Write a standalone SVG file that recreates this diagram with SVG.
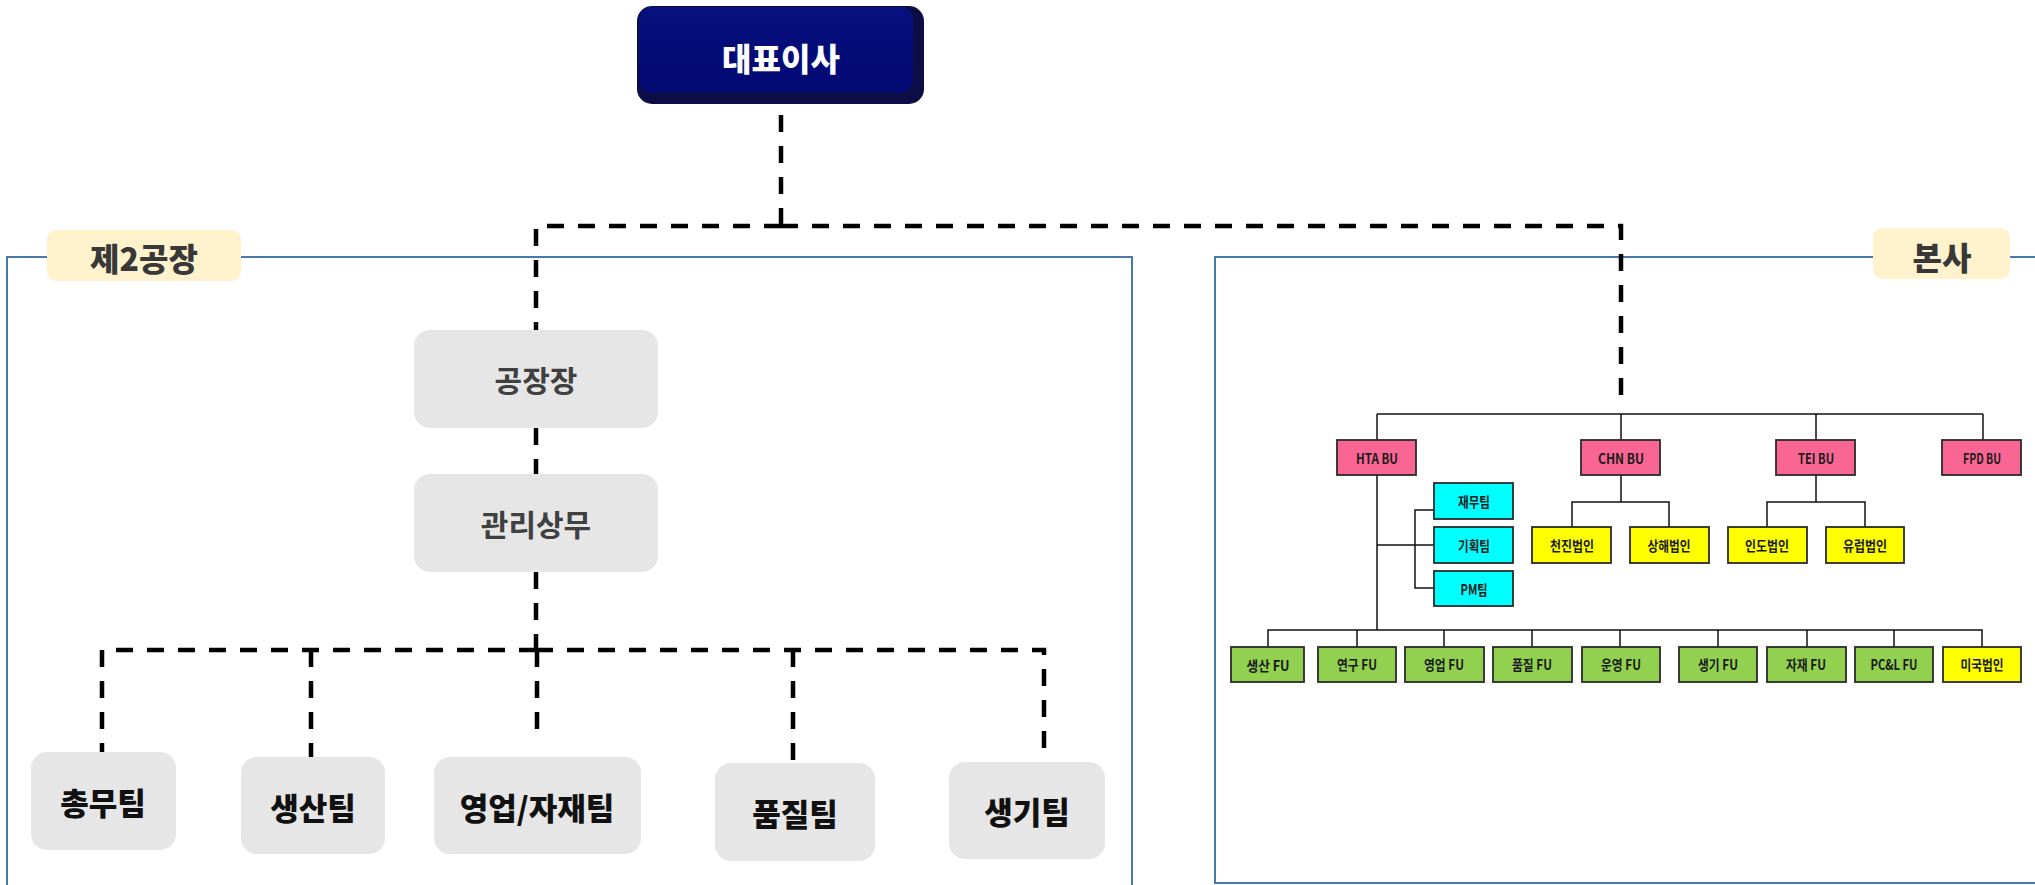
<svg xmlns="http://www.w3.org/2000/svg" width="2035" height="885" viewBox="0 0 2035 885">
<defs>
<style>
.frame{fill:none;stroke:#4a78ad;stroke-width:2}
.lbl{fill:#fff2cc}
.lbltxt{font-family:"Noto Sans CJK KR","Noto Sans",sans-serif;font-weight:900;font-size:32px;fill:#383838;text-anchor:middle;dominant-baseline:central}
.gray{fill:#e6e6e6}
.gtxt{font-family:"Noto Sans CJK KR","Noto Sans",sans-serif;font-weight:bold;font-size:30px;fill:#404040;text-anchor:middle;dominant-baseline:central}
.btxt{font-family:"Noto Sans CJK KR","Noto Sans",sans-serif;font-weight:900;font-size:31px;fill:#111;text-anchor:middle;dominant-baseline:central}
.dash{fill:none;stroke:#000;stroke-width:4.5;stroke-dasharray:17 14}
.solid{fill:none;stroke:#111;stroke-width:1.5}
.box{stroke:#2a2a2a;stroke-width:1.8}
.pink{fill:#fa6694}
.cyan{fill:#00ffff}
.yel{fill:#ffff00}
.grn{fill:#92d050}
.stxt{font-family:"Noto Sans CJK KR","Noto Sans",sans-serif;font-weight:bold;font-size:14px;fill:#1a1a1a;text-anchor:middle;dominant-baseline:central}
</style>
<linearGradient id="ceoG" x1="0" y1="0" x2="0" y2="1">
<stop offset="0" stop-color="#06107e"/>
<stop offset="1" stop-color="#020872"/>
</linearGradient>
</defs>
<rect width="2035" height="885" fill="#ffffff"/>

<!-- frames -->
<g id="frame-left">
<path class="frame" d="M7,890 V257 H1132 V890"/>
</g>
<g id="frame-right">
<path class="frame" d="M2040,257 H1215 V883 H2040"/>
</g>

<!-- connectors -->
<g id="connectors">
<path class="dash" d="M781,115 V226"/>
<path class="dash" d="M781,226 H536 V331"/>
<path class="dash" d="M781,226 H1621 V402"/>
<path class="dash" d="M536,428 V474"/>
<path class="dash" d="M536,572 V650"/>
<path class="dash" d="M536,650 H102 V752"/>
<path class="dash" d="M536,650 H1044 V762"/>
<path class="dash" d="M311,650 V757"/>
<path class="dash" d="M537,650 V741"/>
<path class="dash" d="M793,650 V763"/>
<path class="solid" d="M1377,414 H1983 M1377,414 V440 M1621,414 V440 M1816,414 V440 M1983,414 V440"/>
<path class="solid" d="M1377,475 V630 M1377,545 H1434 M1434,510 H1415 V588 H1434"/>
<path class="solid" d="M1621,475 V502 M1572,527 V502 H1669 V527"/>
<path class="solid" d="M1816,475 V502 M1767,527 V502 H1865 V527"/>
<path class="solid" d="M1268,647 V630 H1982 V647 M1357,630 V647 M1444,630 V647 M1532,630 V647 M1620,630 V647 M1718,630 V647 M1807,630 V647 M1894,630 V647"/>
</g>

<!-- labels -->
<g id="label-plant2">
<rect class="lbl" x="47" y="230" width="194" height="51" rx="9"/>
<text class="lbltxt" x="144" y="257">제2공장</text>
</g>
<g id="label-hq">
<rect class="lbl" x="1873" y="228" width="137" height="51" rx="9"/>
<text class="lbltxt" x="1942" y="256">본사</text>
</g>

<!-- CEO -->
<g id="ceo">
<rect x="637" y="6" width="287" height="98" rx="15" fill="#0d0d45"/>
<rect x="639" y="7" width="274" height="86" rx="13" fill="url(#ceoG)"/>
<text x="781" y="57" font-family="Noto Sans CJK KR, Noto Sans, sans-serif" font-weight="900" font-size="32" fill="#ffffff" text-anchor="middle" dominant-baseline="central">대표이사</text>
</g>

<!-- left side nodes -->
<g id="plant-head">
<rect class="gray" x="414" y="330" width="244" height="98" rx="16"/>
<text class="gtxt" x="536" y="379">공장장</text>
</g>
<g id="mgmt-exec">
<rect class="gray" x="414" y="474" width="244" height="98" rx="16"/>
<text class="gtxt" x="536" y="523">관리상무</text>
</g>
<g id="team-general">
<rect class="gray" x="31" y="752" width="145" height="98" rx="16"/>
<text class="btxt" x="103" y="801">총무팀</text>
</g>
<g id="team-production">
<rect class="gray" x="241" y="757" width="144" height="97" rx="16"/>
<text class="btxt" x="313" y="806">생산팀</text>
</g>
<g id="team-sales">
<rect class="gray" x="434" y="757" width="207" height="97" rx="16"/>
<text class="btxt" x="537" y="806">영업/자재팀</text>
</g>
<g id="team-quality">
<rect class="gray" x="715" y="763" width="160" height="98" rx="16"/>
<text class="btxt" x="795" y="812">품질팀</text>
</g>
<g id="team-engineering">
<rect class="gray" x="949" y="762" width="156" height="97" rx="16"/>
<text class="btxt" x="1027" y="810">생기팀</text>
</g>

<!-- right side nodes -->
<g id="hta-bu"><rect class="box pink" x="1337" y="440" width="79" height="35"/><text class="stxt" x="1377" y="457.5" textLength="42" lengthAdjust="spacingAndGlyphs">HTA BU</text></g>
<g id="chn-bu"><rect class="box pink" x="1581" y="440" width="79" height="35"/><text class="stxt" x="1621" y="457.5" textLength="46" lengthAdjust="spacingAndGlyphs">CHN BU</text></g>
<g id="tei-bu"><rect class="box pink" x="1776" y="440" width="79" height="35"/><text class="stxt" x="1816" y="457.5" textLength="36" lengthAdjust="spacingAndGlyphs">TEI BU</text></g>
<g id="fpd-bu"><rect class="box pink" x="1942" y="440" width="79" height="35"/><text class="stxt" x="1982" y="457.5" textLength="38" lengthAdjust="spacingAndGlyphs">FPD BU</text></g>

<g id="finance"><rect class="box cyan" x="1434" y="483" width="79" height="36"/><text class="stxt" x="1474" y="501" textLength="32" lengthAdjust="spacingAndGlyphs">재무팀</text></g>
<g id="planning"><rect class="box cyan" x="1434" y="527" width="79" height="36"/><text class="stxt" x="1474" y="545" textLength="32" lengthAdjust="spacingAndGlyphs">기획팀</text></g>
<g id="pm"><rect class="box cyan" x="1434" y="571" width="79" height="35"/><text class="stxt" x="1474" y="588.5" textLength="27" lengthAdjust="spacingAndGlyphs">PM팀</text></g>

<g id="tianjin"><rect class="box yel" x="1532" y="527" width="79" height="36"/><text class="stxt" x="1572" y="545" textLength="44" lengthAdjust="spacingAndGlyphs">천진법인</text></g>
<g id="shanghai"><rect class="box yel" x="1630" y="527" width="79" height="36"/><text class="stxt" x="1669" y="545" textLength="43" lengthAdjust="spacingAndGlyphs">상해법인</text></g>
<g id="india"><rect class="box yel" x="1728" y="527" width="79" height="36"/><text class="stxt" x="1767" y="545" textLength="44" lengthAdjust="spacingAndGlyphs">인도법인</text></g>
<g id="europe"><rect class="box yel" x="1826" y="527" width="78" height="36"/><text class="stxt" x="1865" y="545" textLength="44" lengthAdjust="spacingAndGlyphs">유럽법인</text></g>

<g id="fu-production"><rect class="box grn" x="1231" y="647" width="73" height="35"/><text class="stxt" x="1268" y="665" textLength="43" lengthAdjust="spacingAndGlyphs">생산 FU</text></g>
<g id="fu-research"><rect class="box grn" x="1318" y="647" width="78" height="35"/><text class="stxt" x="1357" y="664" textLength="40" lengthAdjust="spacingAndGlyphs">연구 FU</text></g>
<g id="fu-sales"><rect class="box grn" x="1405" y="647" width="79" height="35"/><text class="stxt" x="1444" y="664" textLength="40" lengthAdjust="spacingAndGlyphs">영업 FU</text></g>
<g id="fu-quality"><rect class="box grn" x="1493" y="647" width="79" height="35"/><text class="stxt" x="1532" y="664" textLength="40" lengthAdjust="spacingAndGlyphs">품질 FU</text></g>
<g id="fu-operation"><rect class="box grn" x="1582" y="647" width="78" height="35"/><text class="stxt" x="1621" y="664" textLength="40" lengthAdjust="spacingAndGlyphs">운영 FU</text></g>
<g id="fu-engineering"><rect class="box grn" x="1679" y="647" width="78" height="35"/><text class="stxt" x="1718" y="664" textLength="40" lengthAdjust="spacingAndGlyphs">생기 FU</text></g>
<g id="fu-material"><rect class="box grn" x="1767" y="647" width="79" height="35"/><text class="stxt" x="1806" y="664" textLength="40" lengthAdjust="spacingAndGlyphs">자재 FU</text></g>
<g id="fu-pcl"><rect class="box grn" x="1855" y="647" width="78" height="35"/><text class="stxt" x="1894" y="664" textLength="47" lengthAdjust="spacingAndGlyphs">PC&amp;L FU</text></g>
<g id="usa"><rect class="box yel" x="1943" y="647" width="78" height="35"/><text class="stxt" x="1982" y="664" textLength="43" lengthAdjust="spacingAndGlyphs">미국법인</text></g>
</svg>
